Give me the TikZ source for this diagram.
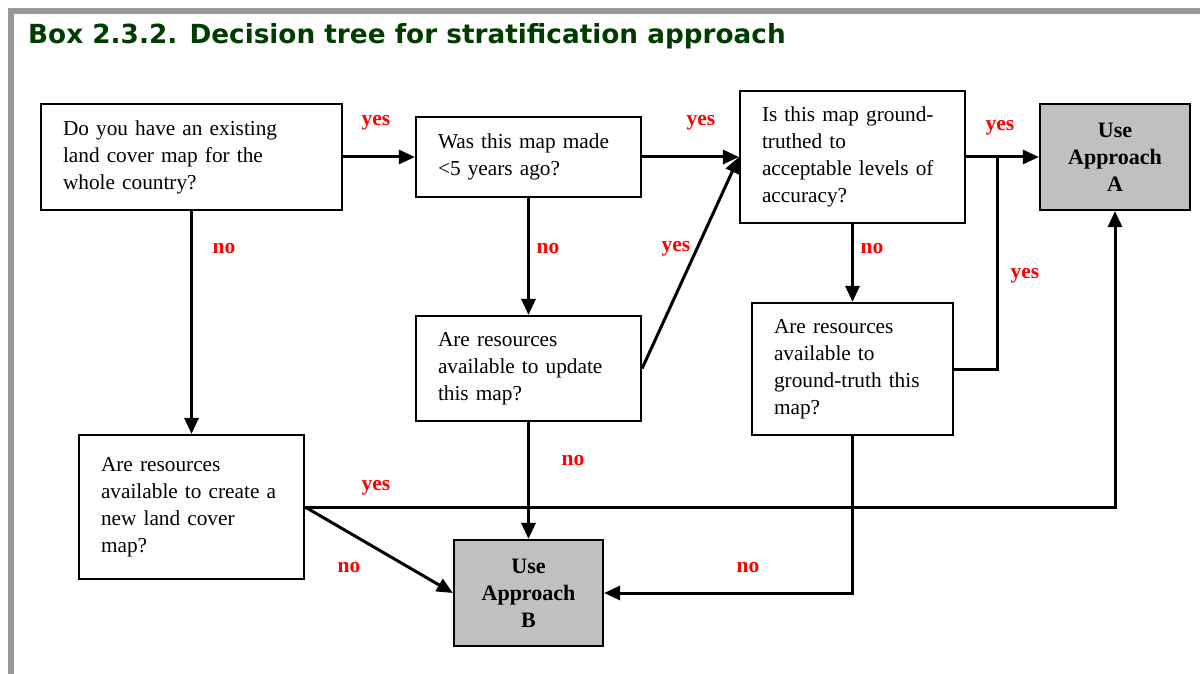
\documentclass[tikz,border=0pt]{standalone}
\usepackage{fontspec}
\setmainfont{Liberation Serif}
\newfontfamily\titlefont{DejaVu Sans}
\usetikzlibrary{arrows.meta}

\definecolor{titlegreen}{RGB}{0,60,0}
\definecolor{framegray}{RGB}{153,153,153}
\definecolor{boxgray}{RGB}{192,192,192}
\definecolor{answerred}{RGB}{255,0,0}

\tikzset{
    question/.style={draw, line width=2.2pt, inner xsep=22pt, inner ysep=0pt, align=left,
        font=\fontsize{21.3}{27}\selectfont},
    approach/.style={draw, line width=2.2pt, fill=boxgray, inner sep=0pt, align=center,
        font=\fontsize{22}{27}\selectfont\bfseries},
    answer/.style={text=answerred, inner sep=0pt, font=\fontsize{21.5}{25}\selectfont\bfseries},
    link/.style={line width=3pt, -{Triangle[length=16pt,width=14pt]}},
    joint/.style={line width=3pt},
}

\begin{document}
\begin{tikzpicture}[x=1pt, y=-1pt]
    \useasboundingbox (0,0) rectangle (1200,674);

    % Frame and title
    \fill [framegray] (8,8) rectangle (1200,14);
    \fill [framegray] (8,8) rectangle (14,674);
    \node (title) [anchor=base west, inner sep=0pt, text=titlegreen, font=\titlefont\fontsize{26.3}{30}\selectfont\bfseries] at (28,43.5) {Box 2.3.2. Decision tree for stratification approach};

    % Questions
    \node (q1) [question, text width=257pt, minimum height=106pt] at (191.5,157) {Do you have an existing\\land cover map for the\\whole country?};
    \node (q2) [question, text width=181pt, minimum height=80pt] at (528.5,157) {Was this map made\\<5 years ago?};
    \node (q3) [question, text width=181pt, minimum height=132pt] at (852.5,157) {Is this map ground-\\truthed to\\acceptable levels of\\accuracy?};
    \node (q4) [question, text width=181pt, minimum height=105pt] at (528.5,368.5) {Are resources\\available to update\\this map?};
    \node (q5) [question, text width=157pt, minimum height=132pt] at (852.5,369) {Are resources\\available to\\ground-truth this\\map?};
    \node (q6) [question, text width=181pt, minimum height=144pt] at (191.5,507) {Are resources\\available to create a\\new land cover\\map?};

    % Outcomes
    \node (appA) [approach, minimum width=150pt, minimum height=106pt] at (1115,157) {Use\\Approach\\A};
    \node (appB) [approach, minimum width=149pt, minimum height=106pt] at (528.5,593) {Use\\Approach\\B};

    % Connectors
    \coordinate (jA) at (997,157);
    \draw [link] (q1.east) -- (q2.west);
    \draw [link] (q2.east) -- (q3.west);
    \draw [link] (q3.east) -- (appA.west);
    \draw [link] (q1.south) -- (q6.north);
    \draw [link] (q2.south) -- (q4.north);
    \draw [link] (q3.south) -- (q5.north);
    \draw [link] (q4.east) -- (q3.west);
    \draw [joint] (q5.east) -| (jA);
    \draw [link] (q6.east) -| (appA.south);
    \draw [link] (q6.east) -- (appB.west);
    \draw [link] (q4.south) -- (appB.north);
    \draw [link] (q5.south) |- (appB.east);

    % Yes / no labels
    \node (y1) [answer] at (376,123) {yes};
    \node (y2) [answer] at (701,123) {yes};
    \node (y3) [answer] at (1000,128) {yes};
    \node (y4) [answer] at (676,249) {yes};
    \node (y5) [answer] at (1025,276) {yes};
    \node (y6) [answer] at (376,488) {yes};
    \node (n1) [answer] at (224,249) {no};
    \node (n2) [answer] at (548,249) {no};
    \node (n3) [answer] at (872,249) {no};
    \node (n4) [answer] at (573,461) {no};
    \node (n5) [answer] at (349,568) {no};
    \node (n6) [answer] at (748,568) {no};
\end{tikzpicture}
\end{document}
